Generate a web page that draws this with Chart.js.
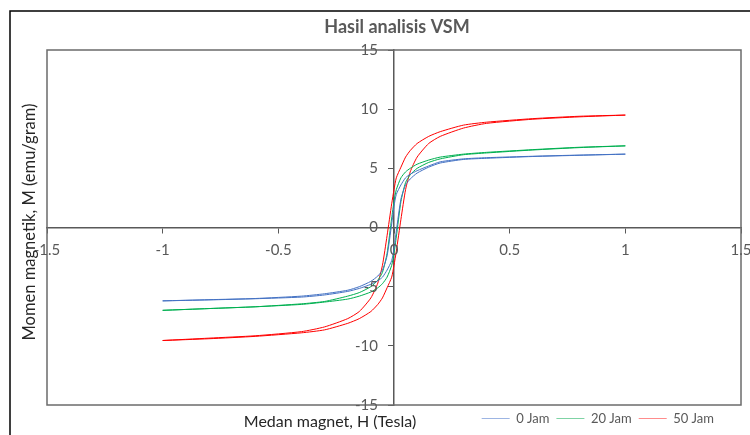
<!DOCTYPE html>
<html lang="id">
<head>
<meta charset="UTF-8">
<title>Hasil analisis VSM</title>
<style>
    body { margin: 0; padding: 0; background: #fff; }
    canvas { display: block; }
</style>
</head>
<body>
<canvas id="vsmChart" width="750" height="435"></canvas>
<script src="https://cdn.jsdelivr.net/npm/chart.js"></script>
<script>
// Medan magnet H (Tesla): cabang turun (1 -> -1) lalu cabang naik (-1 -> 1)
var fieldDown = [1, 0.8, 0.6, 0.4, 0.3, 0.2, 0.15, 0.1, 0.07, 0.05, 0.03, 0.01, 0, -0.01, -0.03, -0.05, -0.07, -0.1, -0.15, -0.2, -0.3, -0.4, -0.6, -0.8, -1];
var fieldUp = [-1, -0.8, -0.6, -0.4, -0.3, -0.2, -0.15, -0.1, -0.07, -0.05, -0.03, -0.01, 0, 0.01, 0.03, 0.05, 0.07, 0.1, 0.15, 0.2, 0.3, 0.4, 0.6, 0.8, 1];

// Momen magnetik M (emu/gram)
var jam0Down = [6.2, 6.12, 6.02, 5.9, 5.8, 5.55, 5.2, 4.8, 4.5, 4.2, 3.6, 2.8, 1.8, 0.3, -2.4, -3.6, -4.1, -4.55, -5.0, -5.3, -5.6, -5.8, -6.0, -6.1, -6.2];
var jam0Up = [-6.2, -6.12, -6.02, -5.88, -5.7, -5.4, -5.15, -4.8, -4.5, -4.2, -3.6, -2.8, -1.8, -0.3, 2.4, 3.6, 4.1, 4.6, 5.1, 5.45, 5.75, 5.85, 6.0, 6.1, 6.2];

var jam20Down = [6.9, 6.78, 6.58, 6.35, 6.2, 5.95, 5.7, 5.35, 5.0, 4.7, 4.2, 3.2, 2.2, 0.8, -2.2, -3.8, -4.45, -5.0, -5.5, -5.8, -6.25, -6.45, -6.7, -6.85, -7.0];
var jam20Up = [-7.0, -6.85, -6.7, -6.5, -6.3, -6.05, -5.8, -5.45, -5.1, -4.75, -4.2, -3.2, -2.2, -0.8, 2.2, 3.8, 4.45, 5.0, 5.5, 5.8, 6.15, 6.3, 6.55, 6.75, 6.9];

var jam50Down = [9.5, 9.4, 9.2, 8.9, 8.65, 8.1, 7.7, 7.1, 6.5, 5.95, 5.1, 4.2, 3.2, 2.0, -0.7, -3.2, -4.7, -5.95, -7.1, -7.7, -8.4, -8.8, -9.15, -9.35, -9.55];
var jam50Up = [-9.55, -9.4, -9.2, -8.9, -8.65, -8.1, -7.7, -7.1, -6.5, -5.95, -5.1, -4.2, -3.2, -2.0, 0.7, 3.2, 4.7, 5.95, 7.1, 7.7, 8.4, 8.8, 9.15, 9.35, 9.5];

var seriesNames = ['0 Jam', '20 Jam', '50 Jam'];
var seriesColors = ['#4472c4', '#00b050', '#ff0000'];
var legendColors = ['#9db5e3', '#7fd3a5', '#ff8c8c'];

// label sumbu
var xTickLabels = [-1.5, -1, -0.5, 0, 0.5, 1, 1.5];
var yTickLabels = [-15, -10, -5, 0, 5, 10, 15];

function loop(down, up) {
    var pts = [];
    for (var i = 0; i < fieldDown.length; i++) pts.push({ x: fieldDown[i], y: down[i] });
    for (var j = 0; j < fieldUp.length; j++) pts.push({ x: fieldUp[j], y: up[j] });
    return pts;
}

var loops = [loop(jam0Down, jam0Up), loop(jam20Down, jam20Up), loop(jam50Down, jam50Up)];

var FONT = 'Lato, "Open Sans", sans-serif';

// bingkai luar, kotak area plot, judul, angka dan label sumbu
var framePlugin = {
    id: 'frame',
    afterLayout: function (chart) {
        // geser legenda sedikit ke kiri seperti di Excel
        chart.legend.left -= 20;
        chart.legend.right -= 20;
    },
    beforeDraw: function (chart) {
        var ctx = chart.ctx;
        ctx.save();
        ctx.fillStyle = '#fff';
        ctx.fillRect(0, 0, chart.width, chart.height);
        ctx.strokeStyle = '#000';
        ctx.lineWidth = 1.5;
        ctx.strokeRect(10, 11, 800, 500);
        ctx.restore();
    },
    beforeDatasetsDraw: function (chart) {
        var ctx = chart.ctx, a = chart.chartArea;
        ctx.save();
        ctx.strokeStyle = '#6b6b6b';
        ctx.lineWidth = 1.5;
        ctx.strokeRect(a.left, a.top, a.right - a.left, a.bottom - a.top);
        ctx.restore();
    },
    afterDraw: function (chart) {
        var ctx = chart.ctx;
        var xs = chart.scales.x, ys = chart.scales.y;
        var x0 = xs.getPixelForValue(0), y0 = ys.getPixelForValue(0);
        ctx.save();
        ctx.fillStyle = '#595959';
        ctx.font = '15px ' + FONT;
        ctx.textBaseline = 'middle';
        ctx.textAlign = 'center';
        xTickLabels.forEach(function (v) {
            ctx.fillText(String(v), xs.getPixelForValue(v), y0 + 23);
        });
        ctx.textAlign = 'right';
        yTickLabels.forEach(function (v) {
            ctx.fillText(String(v), x0 - 16, ys.getPixelForValue(v));
        });

        ctx.textAlign = 'center';
        ctx.font = 'bold 18px ' + FONT;
        ctx.fillText('Hasil analisis VSM', 397, 27);
        ctx.fillStyle = '#262626';
        ctx.font = '16px ' + FONT;
        ctx.fillText('Medan magnet, H (Tesla)', 330, 422);
        ctx.translate(30, 222);
        ctx.rotate(-Math.PI / 2);
        ctx.font = '16.5px ' + FONT;
        ctx.fillText('Momen magnetik, M (emu/gram)', 0, 0);
        ctx.restore();
    }
};

var ctx = document.getElementById('vsmChart').getContext('2d');
new Chart(ctx, {
    type: 'scatter',
    data: {
        datasets: seriesNames.map(function (name, i) {
            return {
                label: name,
                data: loops[i],
                showLine: true,
                borderColor: seriesColors[i],
                backgroundColor: seriesColors[i],
                borderWidth: 1,
                pointRadius: 0,
                tension: 0.2
            };
        })
    },
    options: {
        responsive: false,
        animation: false,
        devicePixelRatio: 1,
        layout: { padding: { top: 50, left: 47, right: 9, bottom: 0 } },
        plugins: {
            title: { display: false },
            tooltip: { enabled: false },
            legend: {
                position: 'bottom',
                align: 'end',
                labels: {
                    usePointStyle: true,
                    pointStyle: 'line',
                    pointStyleWidth: 28,
                    color: '#595959',
                    font: { family: FONT, size: 13 },
                    padding: 7,
                    generateLabels: function (chart) {
                        var items = Chart.defaults.plugins.legend.labels.generateLabels(chart);
                        items.forEach(function (it, i) { it.strokeStyle = legendColors[i]; });
                        return items;
                    }
                }
            }
        },
        scales: {
            x: {
                type: 'linear',
                min: -1.5,
                max: 1.5,
                position: { y: 0 },
                ticks: { stepSize: 0.5, display: false },
                grid: { drawOnChartArea: false, drawTicks: true, tickLength: 5, color: '#595959' },
                border: { display: true, color: '#595959', width: 1.5 }
            },
            y: {
                min: -15,
                max: 15,
                position: { x: 0 },
                ticks: { stepSize: 5, display: false },
                grid: { drawOnChartArea: false, drawTicks: true, tickLength: 5, color: '#595959' },
                border: { display: true, color: '#595959', width: 1.5 }
            }
        }
    },
    plugins: [framePlugin]
});
</script>
</body>
</html>
